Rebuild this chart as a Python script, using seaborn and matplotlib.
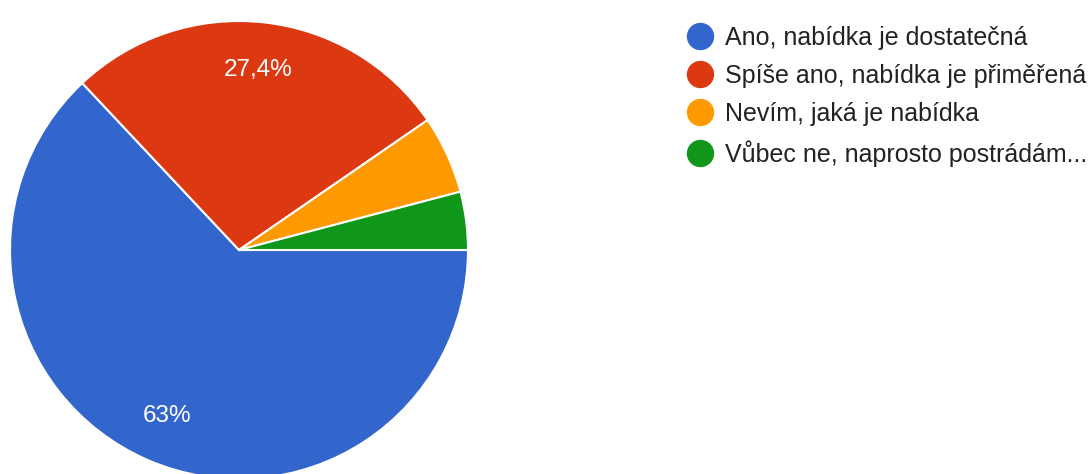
import matplotlib
matplotlib.use("Agg")
import matplotlib.pyplot as plt
from matplotlib.lines import Line2D
import seaborn as sns

categories = ["Ano, nabídka je dostatečná",
              "Spíše ano, nabídka je přiměřená",
              "Nevím, jaká je nabídka",
              "Vůbec ne, naprosto postrádám..."]
values = [63.0, 27.4, 5.5, 4.1]
colors = ["#3366CC", "#DC3912", "#FF9900", "#109618"]

sns.set_theme(style="white")
plt.rcParams['font.family'] = ['Liberation Sans', 'DejaVu Sans']
pal = sns.color_palette(colors)

W, H = 1092, 474
fig = plt.figure(figsize=(W / 100, H / 100), dpi=100)
fig.patch.set_facecolor("white")

cx, cy, r = 239, 250, 229
ax = fig.add_axes([(cx - r) / W, (H - cy - r) / H, 2 * r / W, 2 * r / H])


def fmt(p):
    if p < 10:
        return ""
    s = f"{p:.1f}".rstrip("0").rstrip(".")
    return s.replace(".", ",") + "%"


wedges, texts, autotexts = ax.pie(
    values, colors=pal, startangle=0, counterclock=False,
    autopct=fmt, pctdistance=0.79,
    wedgeprops=dict(edgecolor="white", linewidth=1.5),
    textprops=dict(color="white", fontsize=17.5))
ax.set_xlim(-1, 1)
ax.set_ylim(-1, 1)
ax.set_aspect("equal")
ax.axis("off")

handles = [Line2D([0], [0], marker="o", linestyle="none", markersize=18.7,
                  markerfacecolor=c, markeredgecolor=c) for c in pal]
fig.legend(handles, categories, loc="upper left",
           bbox_to_anchor=(675 / W, 1 - 13 / H), frameon=False,
           fontsize=18, labelcolor="#222222", borderpad=0,
           handlelength=1.0, handletextpad=0.51, labelspacing=0.57)

fig.savefig("out.png", dpi=100, facecolor="white")
